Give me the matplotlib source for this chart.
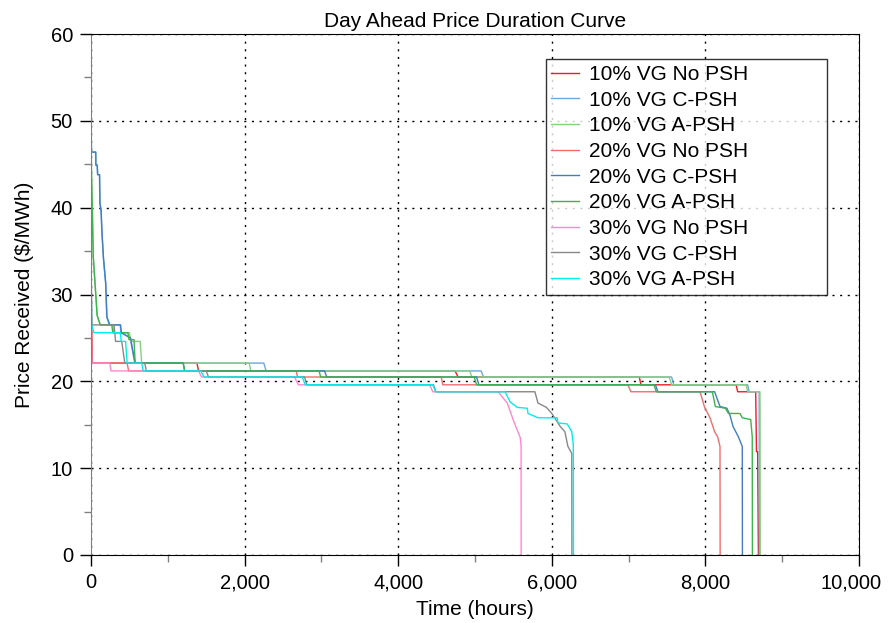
import matplotlib
matplotlib.use("Agg")
import matplotlib.pyplot as plt
from matplotlib.ticker import MultipleLocator, FuncFormatter
from matplotlib.transforms import ScaledTranslation

plt.rcParams['font.family'] = ['Liberation Sans', 'DejaVu Sans']

labels = ["10% VG No PSH", "10% VG C-PSH", "10% VG A-PSH",
          "20% VG No PSH", "20% VG C-PSH", "20% VG A-PSH",
          "30% VG No PSH", "30% VG C-PSH", "30% VG A-PSH"]
colors = ['#ee1c25', '#6fa8dc', '#88d080',
          '#f26d6d', '#3f7fbf', '#3cb44b',
          '#ff88cc', '#888888', '#00eeee']

# 10% VG
h10_no = [0, 2, 5, 15, 1380, 1400, 4740, 4780, 7140, 7160, 8400, 8420, 8655, 8665, 8680, 8690]
p10_no = [56.3, 40, 27.9, 22.1, 22.1, 21.2, 21.2, 20.5, 20.5, 19.6, 19.6, 18.8, 18.8, 11.9, 11.9, 0]

h10_c = [0, 5, 60, 62, 80, 85, 110, 115, 130, 140, 160, 190, 205, 240, 380, 390, 510, 530, 570,
         2250, 2280, 5080, 5110, 7560, 7590, 8550, 8570, 8700, 8702]
p10_c = [52.6, 46.4, 46.4, 44.9, 44.9, 43.8, 43.8, 40.5, 39.7, 37.4, 34.3, 31.3, 27.4, 26.5, 26.5, 25.6, 25.0, 24.0, 22.1,
         22.1, 21.2, 21.2, 20.5, 20.5, 19.6, 19.6, 18.8, 18.8, 0]

h10_a = [0, 10, 20, 30, 80, 120, 280, 300, 500, 520, 640, 660,
         2060, 2080, 4930, 4960, 7530, 7560, 8530, 8550, 8710, 8712, 8714]
p10_a = [47.4, 43.0, 39.7, 34.3, 27.6, 26.5, 26.5, 25.6, 25.6, 24.6, 24.6, 22.1,
         22.1, 21.2, 21.2, 20.5, 20.5, 19.6, 19.6, 18.8, 18.8, 17.0, 0]

# 20% VG
h20_no = [0, 2, 5, 15, 470, 490, 2670, 2690, 4560, 4580, 6990, 7030,
          7930, 7990, 8060, 8120, 8160, 8190, 8192]
p20_no = [55.0, 38, 27.9, 22.1, 22.1, 21.2, 21.2, 20.5, 20.5, 19.6, 19.6, 18.8,
          18.8, 17.0, 15.8, 14.2, 13.6, 12.5, 0]

h20_c = [0, 6, 62, 64, 82, 87, 112, 117, 132, 142, 162, 192, 208, 245, 385, 395, 515, 535, 575,
         1200, 1220, 3040, 3070, 5020, 5050, 7350, 7380,
         8120, 8190, 8280, 8320, 8360, 8430, 8480, 8482]
p20_c = [52.0, 46.4, 46.4, 44.9, 44.9, 43.8, 43.8, 40.5, 39.7, 37.4, 34.3, 31.3, 27.4, 26.5, 26.5, 25.6, 25.0, 24.0, 22.1,
         22.1, 21.2, 21.2, 20.5, 20.5, 19.6, 19.6, 18.8,
         18.8, 17.1, 16.9, 16.1, 14.8, 13.6, 12.5, 0]

h20_a = [0, 10, 20, 30, 80, 120, 270, 285, 480, 495, 560, 575,
         1200, 1220, 2970, 2990, 4990, 5020, 7330, 7360,
         8090, 8130, 8260, 8300, 8450, 8480, 8590, 8610, 8612]
p20_a = [46.0, 42.0, 38.0, 34.3, 27.6, 26.5, 26.5, 25.6, 25.6, 24.8, 24.8, 22.1,
         22.1, 21.2, 21.2, 20.5, 20.5, 19.6, 19.6, 18.8,
         18.8, 17.1, 16.9, 16.3, 16.3, 15.8, 15.6, 13.6, 0]

# 30% VG
h30_no = [0, 3, 10, 245, 260, 1400, 1440, 2650, 2700, 4410, 4450,
          5300, 5420, 5500, 5590, 5600, 5601]
p30_no = [27.0, 24.0, 22.1, 22.1, 21.2, 21.2, 20.5, 20.5, 19.6, 19.6, 18.8,
          18.8, 17.5, 15.5, 13.5, 12.5, 0]

h30_c = [0, 5, 10, 300, 320, 400, 440, 700, 720, 1500, 1530, 2780, 2810, 4460, 4490,
         5780, 5820, 5930, 6000, 6110, 6170, 6210, 6260, 6262]
p30_c = [37.4, 30.0, 26.5, 26.5, 24.6, 24.6, 22.1, 22.1, 21.2, 21.2, 20.5, 20.5, 19.6, 19.6, 18.8,
         18.8, 17.5, 17.0, 16.3, 14.8, 14.2, 12.5, 11.7, 0]

h30_a = [0, 3, 8, 40, 380, 395, 450, 470, 660, 680, 1430, 1470, 2750, 2790, 4450, 4490,
         5390, 5460, 5550, 5680, 5690, 5820, 6070, 6080, 6200, 6260, 6280, 6282]
p30_a = [34.5, 31.9, 26.5, 25.6, 25.6, 24.6, 24.6, 22.1, 22.1, 21.2, 21.2, 20.5, 20.5, 19.6, 19.6, 18.8,
         18.8, 17.6, 17.0, 16.9, 16.3, 15.8, 15.8, 15.2, 15.1, 14.2, 12.7, 0]

series = [(h10_no, p10_no), (h10_c, p10_c), (h10_a, p10_a),
          (h20_no, p20_no), (h20_c, p20_c), (h20_a, p20_a),
          (h30_no, p30_no), (h30_c, p30_c), (h30_a, p30_a)]

fig = plt.figure(figsize=(8.88, 6.23), dpi=100)
ax = fig.add_axes([91/888, 1-555/623, 768/888, 521/623])

for (h, p), lab, col in zip(series, labels, colors):
    ax.plot(h, p, color=col, lw=1.0, label=lab)

ax.set_xlim(0, 10000)
ax.set_ylim(0, 60)
ax.xaxis.set_major_locator(MultipleLocator(2000))
ax.xaxis.set_minor_locator(MultipleLocator(1000))
ax.yaxis.set_major_locator(MultipleLocator(10))
ax.yaxis.set_minor_locator(MultipleLocator(5))
ax.xaxis.set_major_formatter(FuncFormatter(lambda v, pos: f"{int(v):,}"))
ax.tick_params(axis='both', which='major', direction='out', length=8, width=1, labelsize=14.5, color='black', pad=5)
ax.tick_params(axis='both', which='minor', direction='out', length=5, width=1, color='#808080')
ax.grid(True, which='major', color='black', linestyle=(0, (1.5, 4)), lw=1.0)
ax.set_axisbelow(True)
ax.spines['left'].set_color('#808080')

ax.set_title("Day Ahead Price Duration Curve", fontsize=15, pad=5)
ax.set_xlabel("Time (hours)", fontsize=15, labelpad=6)
ax.set_ylabel("Price Received ($/MWh)", fontsize=15, labelpad=12)

leg = ax.legend(loc='upper left', bbox_to_anchor=(0.592, 0.503, 0.366, 0.449), mode='expand',
                fontsize=15, frameon=True, fancybox=False, edgecolor='black',
                handlelength=1.3, handletextpad=0.5, labelspacing=0.32, borderaxespad=0,
                borderpad=0.28)
leg.get_frame().set_linewidth(1.0)

# keep the last x tick label inside the figure
fig.canvas.draw()
for t in ax.xaxis.get_major_ticks():
    if abs(t.get_loc() - 10000) < 1e-6:
        t.label1.set_transform(t.label1.get_transform() + ScaledTranslation(-8/100, 0, fig.dpi_scale_trans))

fig.savefig("out.png", dpi=100)
